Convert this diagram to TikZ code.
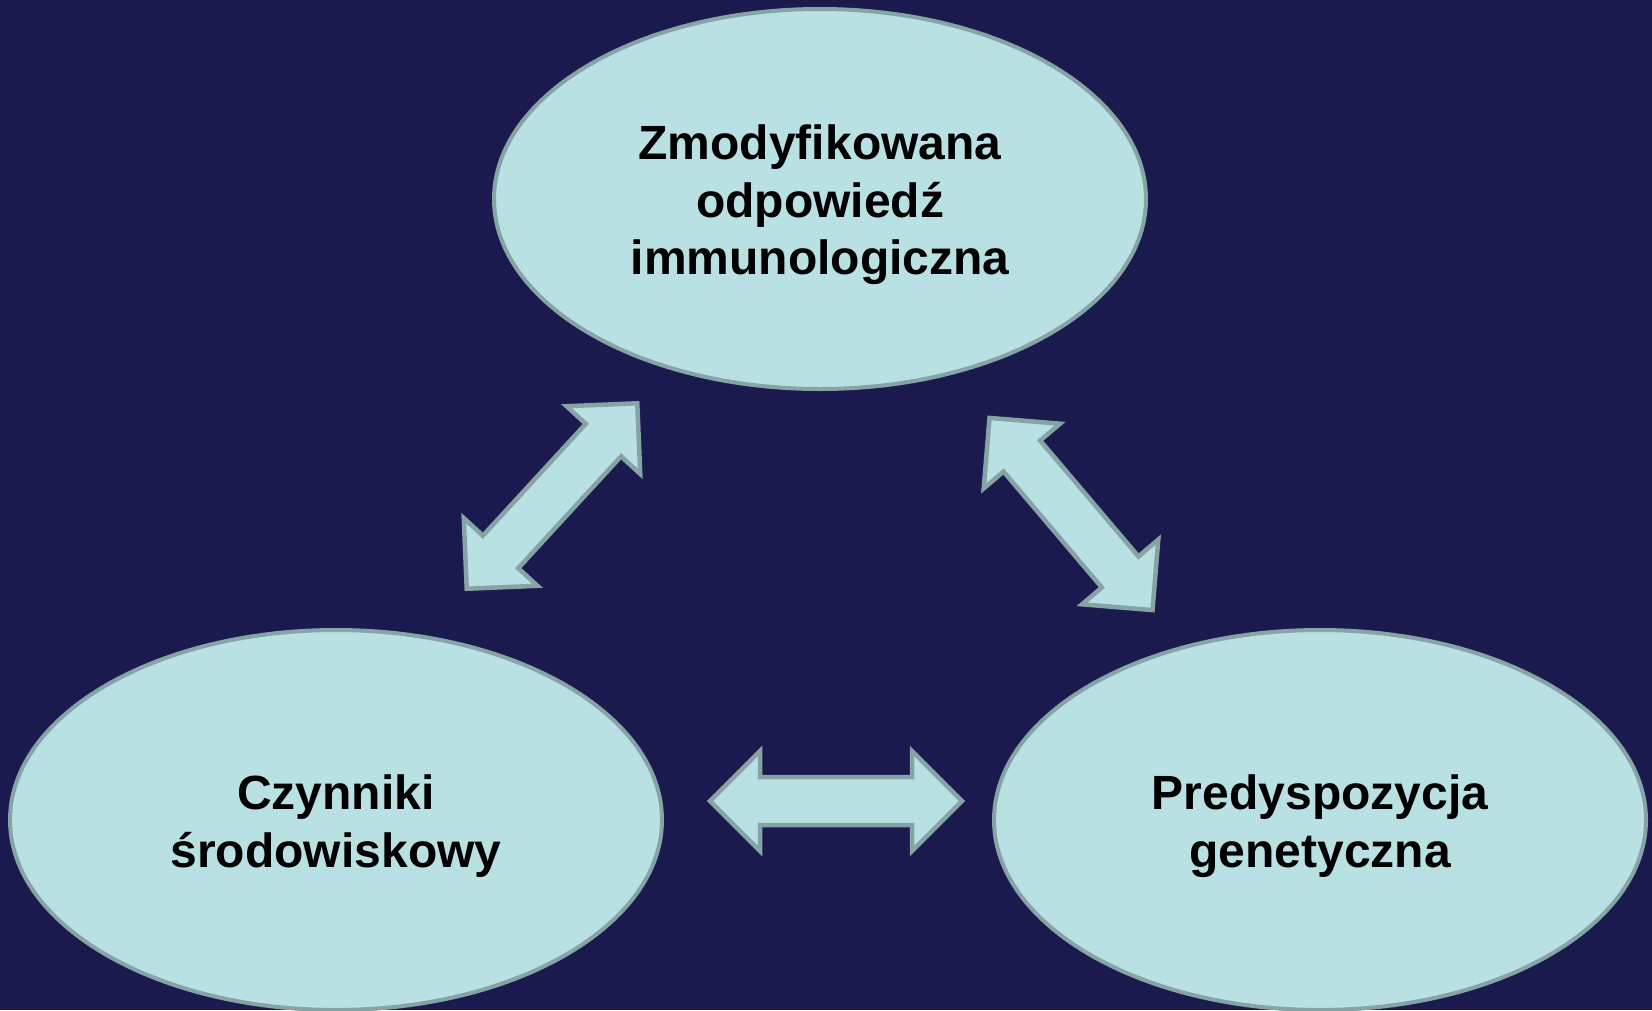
\documentclass[tikz,border=0pt]{standalone}
\usepackage{fontspec}
\setmainfont{Liberation Sans}
\usetikzlibrary{shapes.geometric}
\definecolor{bgnavy}{HTML}{1B1A4E}
\definecolor{paleteal}{HTML}{B9E0E3}
\definecolor{rimgray}{HTML}{86A3A6}
\tikzset{
  oval/.style={ellipse, draw=rimgray, fill=paleteal, line width=4pt,
    minimum width=652pt, minimum height=380pt, inner sep=0pt},
  ovaltext/.style={align=center, inner sep=0pt,
    font=\fontsize{48}{57.6}\selectfont\bfseries, text=black},
  dblarrow/.pic={
    \draw[draw=rimgray, fill=paleteal, line width=4.5pt, line join=miter]
      (-126,0) -- (-76,50) -- (-76,24) -- (76,24) -- (76,50) -- (126,0)
      -- (76,-50) -- (76,-24) -- (-76,-24) -- (-76,-50) -- cycle;
  }
}
\begin{document}
\begin{tikzpicture}[x=1pt,y=-1pt]
\fill[bgnavy] (0,0) rectangle (1652,1010);
\useasboundingbox (0,0) rectangle (1652,1010);
\node[oval] (top) at (820,199) {};
\node[oval] (left) at (336,820) {};
\node[oval] (right) at (1320,820) {};
\node[ovaltext] (toptext) at ([yshift=-6pt]top.center) {Zmodyfikowana\\odpowiedź\\immunologiczna};
\node[ovaltext] (lefttext) at ([yshift=-6pt]left.center) {Czynniki\\środowiskowy};
\node[ovaltext] (righttext) at ([yshift=-6pt]right.center) {Predyspozycja\\genetyczna};
\pic[rotate=47.4] at (552,496) {dblarrow};
\pic[rotate=-49.7] at (1071,514) {dblarrow};
\pic at (836,801) {dblarrow};
\end{tikzpicture}
\end{document}
